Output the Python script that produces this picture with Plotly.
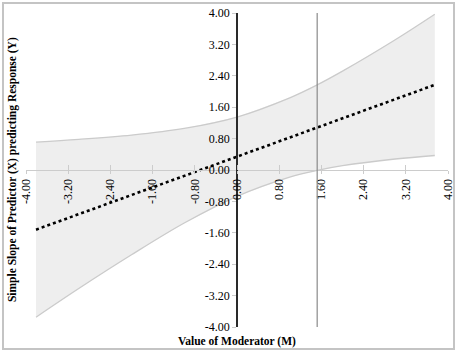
import plotly.graph_objects as go

# Values
moderator = [-3.81, -3.0, -2.0, -1.0, 0.0, 1.0, 1.52, 2.0, 3.0, 3.75]
slope = [-1.52, -1.12, -0.64, -0.15, 0.34, 0.83, 1.08, 1.32, 1.80, 2.17]
upper_ci = [0.71, 0.78, 0.89, 1.06, 1.35, 1.84, 2.17, 2.52, 3.32, 3.97]
lower_ci = [-3.75, -3.02, -2.16, -1.35, -0.67, -0.18, -0.01, 0.11, 0.28, 0.37]
jn_point = 1.52

tick_vals = [-4.0, -3.2, -2.4, -1.6, -0.8, 0.0, 0.8, 1.6, 2.4, 3.2, 4.0]
tick_text = ["-4.00", "-3.20", "-2.40", "-1.60", "-0.80", "0.00", "0.80", "1.60", "2.40", "3.20", "4.00"]

x_title = "Value of Moderator (M)"
y_title = "Simple Slope of Predictor (X) predicting Response (Y)"

FONT = "Liberation Serif, Times New Roman, serif"
BAND_FILL = "#eeeeee"
BAND_LINE = "#cbcbcb"

fig = go.Figure()

# Confidence band
fig.add_trace(go.Scatter(
    x=moderator + moderator[::-1],
    y=upper_ci + lower_ci[::-1],
    fill="toself", fillcolor=BAND_FILL,
    line=dict(width=0), mode="lines", hoverinfo="skip", showlegend=False,
))
fig.add_trace(go.Scatter(
    x=moderator, y=upper_ci, mode="lines",
    line=dict(color=BAND_LINE, width=1.3, shape="spline"), showlegend=False,
))
fig.add_trace(go.Scatter(
    x=moderator, y=lower_ci, mode="lines",
    line=dict(color=BAND_LINE, width=1.3, shape="spline"), showlegend=False,
))
# Simple slope line
fig.add_trace(go.Scatter(
    x=moderator, y=slope, mode="lines",
    line=dict(color="black", width=2.6, dash="dot"), showlegend=False,
))
# dummy trace on xaxis2 so that its ticks render
fig.add_trace(go.Scatter(x=[None], y=[None], xaxis="x2", showlegend=False))

# Johnson-Neyman line
fig.add_shape(type="line", xref="x", yref="y", x0=jn_point, x1=jn_point, y0=-4, y1=4,
              line=dict(color="#8a8a8a", width=1.2), layer="above")

# Outer frame
fig.add_shape(type="rect", xref="paper", yref="paper",
              x0=-0.0545, x1=1.0142, y0=-0.0701, y1=1.0318,
              line=dict(color="#c4c4c4", width=2), layer="above")

fig.update_layout(
    width=459, height=352,
    margin=dict(l=26, r=11, t=13, b=25, autoexpand=False),
    paper_bgcolor="white", plot_bgcolor="white",
    font=dict(family=FONT, size=12, color="black"),
    xaxis=dict(
        range=[-4, 4], anchor="free", position=0.5, automargin=False,
        tickvals=tick_vals, ticktext=tick_text, tickangle=-90,
        showline=True, linecolor="#cccccc", linewidth=1.3,
        ticks="outside", ticklen=3, tickcolor="#cccccc", tickwidth=1.3,
        showgrid=False, zeroline=False,
        tickfont=dict(family=FONT, size=12),
    ),
    xaxis2=dict(
        range=[-4, 4], anchor="free", position=0.5, overlaying="x", automargin=False,
        tickvals=tick_vals, showticklabels=False,
        ticks="inside", ticklen=5, tickcolor="#cccccc", tickwidth=1.3,
        showline=False, showgrid=False, zeroline=False,
    ),
    yaxis=dict(
        range=[-4, 4], anchor="free", position=0.5, automargin=False,
        tickvals=tick_vals, ticktext=tick_text,
        showline=True, linecolor="#2a2a2a", linewidth=1.6,
        ticks="outside", ticklen=4, tickcolor="#cccccc", tickwidth=1.2,
        showgrid=False, zeroline=False,
        tickfont=dict(family=FONT, size=12),
    ),
    annotations=[
        dict(text="<b>" + x_title + "</b>", xref="paper", yref="paper",
             x=0.5, y=-0.047, xanchor="center", yanchor="middle", showarrow=False,
             font=dict(family=FONT, size=11.5)),
        dict(text="<b>" + y_title + "</b>", xref="paper", yref="paper",
             x=-0.033, y=0.5, xanchor="center", yanchor="middle", textangle=-90,
             showarrow=False, font=dict(family=FONT, size=11.5)),
    ],
)

fig.write_html("out.html", config={"displayModeBar": False},
               post_script="document.body.style.margin='0';")
